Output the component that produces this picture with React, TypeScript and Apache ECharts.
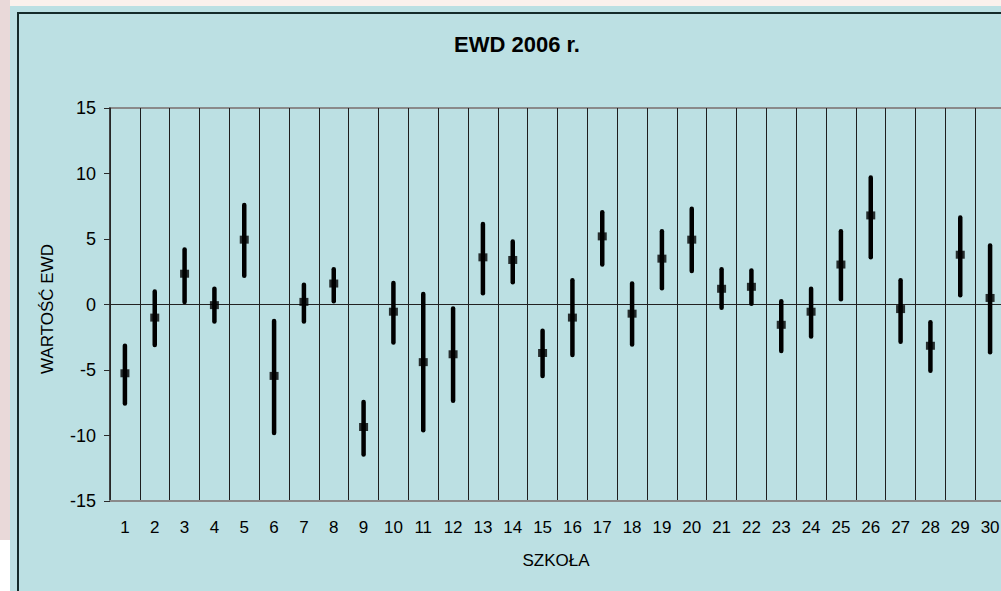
import React, { useEffect, useRef } from "react";
import * as echarts from "echarts";

const schools = ["1","2","3","4","5","6","7","8","9","10","11","12","13","14","15","16","17","18","19","20","21","22","23","24","25","26","27","28","29","30"];
const meanValues = [-5.25,-1.0,2.35,-0.05,4.95,-5.45,0.2,1.6,-9.35,-0.55,-4.4,-3.8,3.6,3.4,-3.7,-1.0,5.2,-0.7,3.5,4.95,1.2,1.35,-1.55,-0.55,3.05,6.8,-0.35,-3.15,3.8,0.5];
const highValues = [-3.15,1.0,4.2,1.2,7.6,-1.25,1.5,2.7,-7.45,1.65,0.8,-0.3,6.15,4.8,-2.0,1.85,7.05,1.6,5.6,7.3,2.7,2.6,0.25,1.2,5.6,9.7,1.85,-1.35,6.65,4.5];
const lowValues = [-7.55,-3.1,0.2,-1.3,2.2,-9.8,-1.3,0.25,-11.45,-2.9,-9.6,-7.35,0.85,1.7,-5.45,-3.85,3.05,-3.05,1.25,2.55,-0.25,0.05,-3.55,-2.45,0.4,3.6,-2.85,-5.05,0.7,-3.65];

const titleText = "EWD 2006 r.";
const yName = "WARTOŚĆ EWD";
const xName = "SZKOŁA";
const FONT = "'Liberation Sans', Arial, sans-serif";

export default function App() {
  const ref = useRef<HTMLDivElement>(null);
  useEffect(() => {
    if (!ref.current) return;
    const chart = echarts.init(ref.current, null, { renderer: "svg" });
    const errData = schools.map((_, i) => [i, lowValues[i], highValues[i]]);
    const meanData = schools.map((_, i) => [i, meanValues[i]]);
    chart.setOption({
      animation: false,
      backgroundColor: "transparent",
      textStyle: { fontFamily: FONT },
      grid: {
        left: 110,
        top: 108,
        width: 895,
        height: 393,
        show: true,
        borderColor: "#8a8a8a",
        borderWidth: 2,
        backgroundColor: "transparent",
        containLabel: false,
        outerBoundsMode: "none",
      },
      graphic: [
        {
          type: "text",
          x: 517,
          y: 44,
          style: {
            text: titleText,
            fill: "#000",
            font: `bold 22px ${FONT}`,
            align: "center",
            verticalAlign: "middle",
          },
        },
        {
          type: "text",
          x: 47,
          y: 309,
          rotation: Math.PI / 2,
          style: {
            text: yName,
            fill: "#000",
            font: `17px ${FONT}`,
            align: "center",
            verticalAlign: "middle",
          },
        },
        {
          type: "text",
          x: 556,
          y: 560,
          style: {
            text: xName,
            fill: "#000",
            font: `17px ${FONT}`,
            align: "center",
            verticalAlign: "middle",
          },
        },
      ],
      xAxis: [
        {
          type: "category",
          data: schools,
          position: "bottom",
          boundaryGap: true,
          axisLine: { show: true, onZero: false, lineStyle: { color: "#8a8a8a", width: 2 } },
          axisTick: { show: false },
          axisLabel: { interval: 0, fontSize: 17, color: "#000", margin: 18, fontFamily: FONT },
          splitLine: { show: true, interval: 0, lineStyle: { color: "#1e1e1e", width: 1 } },
        },
        {
          type: "category",
          data: schools,
          position: "bottom",
          boundaryGap: true,
          axisLine: { show: true, onZero: true, lineStyle: { color: "#222", width: 1 } },
          axisTick: { show: true, interval: 0, length: 5, lineStyle: { color: "#222" } },
          axisLabel: { show: false },
          splitLine: { show: false },
        },
      ],
      yAxis: {
        type: "value",
        min: -15,
        max: 15,
        interval: 5,
        axisLine: { show: true, lineStyle: { color: "#2a2a2a", width: 1.5 } },
        axisTick: { show: true, length: 6, lineStyle: { color: "#2a2a2a" } },
        axisLabel: { fontSize: 18, color: "#000", margin: 14, fontFamily: FONT },
        splitLine: { show: false },
      },
      series: [
        {
          type: "custom",
          xAxisIndex: 0,
          data: errData,
          encode: { x: 0, y: [1, 2] },
          z: 5,
          renderItem: (params: any, api: any) => {
            const p1 = api.coord([api.value(0), api.value(1)]);
            const p2 = api.coord([api.value(0), api.value(2)]);
            return {
              type: "line",
              shape: { x1: p1[0], y1: p1[1], x2: p2[0], y2: p2[1] },
              style: { stroke: "#000", lineWidth: 4.5, lineCap: "round" },
            };
          },
        },
        {
          type: "scatter",
          xAxisIndex: 0,
          data: meanData,
          symbol: "rect",
          symbolSize: [9, 8],
          itemStyle: { color: "#000" },
          z: 6,
        },
      ],
    });
    return () => chart.dispose();
  }, []);

  return (
    <div style={{ position: "fixed", left: 0, top: 0, width: 1001, height: 591, overflow: "hidden", background: "#ffffff" }}>
      <div style={{ position: "absolute", left: 0, top: 0, width: 10, height: 540, background: "#e9d9d9" }} />
      <div style={{ position: "absolute", left: 10, top: 0, width: 991, height: 6, background: "#fbf1ec" }} />
      <div style={{ position: "absolute", left: 10, top: 6, width: 1000, height: 600, background: "#bce0e3" }} />
      <div style={{ position: "absolute", left: 17, top: 12, width: 1000, height: 600, borderLeft: "2px solid #142a2a", borderTop: "2px solid #142a2a" }} />
      <div ref={ref} style={{ position: "absolute", left: 0, top: 0, width: 1001, height: 591 }} />
    </div>
  );
}
